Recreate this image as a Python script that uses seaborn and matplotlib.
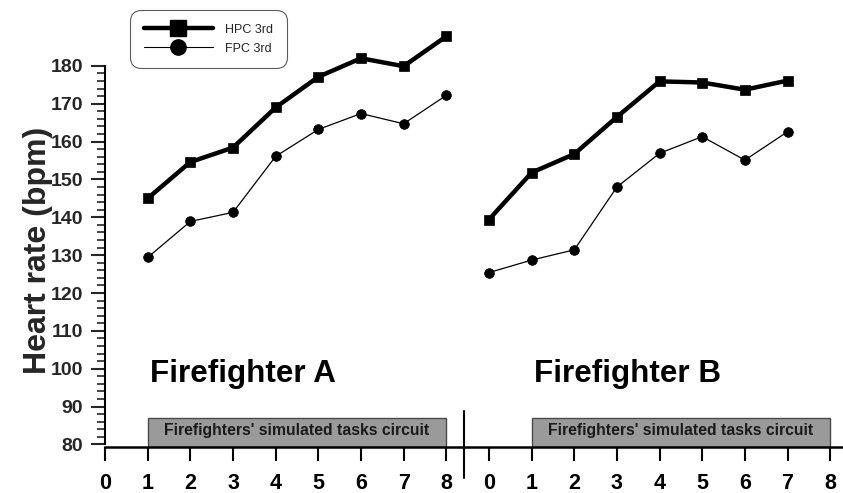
import numpy as np
import pandas as pd
import matplotlib
matplotlib.use("Agg")
import matplotlib.pyplot as plt
from matplotlib.lines import Line2D
from matplotlib.patches import Rectangle
from matplotlib.ticker import FixedLocator
import seaborn as sns

# Heart rate (bpm) at each step of the circuit
steps_a = [1, 2, 3, 4, 5, 6, 7, 8]
hpc_a = [145.0, 154.6, 158.4, 169.0, 177.1, 182.0, 179.9, 187.8]
fpc_a = [129.4, 138.9, 141.3, 156.1, 163.2, 167.4, 164.7, 172.2]

steps_b = [0, 1, 2, 3, 4, 5, 6, 7]
hpc_b = [139.4, 151.8, 156.7, 166.5, 175.9, 175.6, 173.7, 176.1]
fpc_b = [125.4, 128.7, 131.4, 148.0, 156.9, 161.3, 155.1, 162.6]

series_names = ["HPC 3rd", "FPC 3rd"]
panel_names = ["Firefighter A", "Firefighter B"]
tick_labels = [str(i) for i in range(9)]
circuit_label = "Firefighters' simulated tasks circuit"
circuit_span = (1, 8)      # circuit steps shaded in each panel
circuit_top = 87           # height of the circuit band (bpm)

# Panel B is placed to the right of panel A on a shared step axis
panel_offset = 9
y_low, y_high = 79.3, 192

rows = []
for name, steps, hpc, fpc, off in [
    (panel_names[0], steps_a, hpc_a, fpc_a, 0),
    (panel_names[1], steps_b, hpc_b, fpc_b, panel_offset),
]:
    for s, v in zip(steps, hpc):
        rows.append({"pos": s + off, "hr": v, "protocol": series_names[0], "ff": name})
    for s, v in zip(steps, fpc):
        rows.append({"pos": s + off, "hr": v, "protocol": series_names[1], "ff": name})
df = pd.DataFrame(rows)

sns.set_theme(style="ticks")
plt.rcParams["font.family"] = ["Liberation Sans", "DejaVu Sans"]

fig = plt.figure(figsize=(8.43, 4.93), dpi=100)
ax = fig.add_axes([0.1246, 0.0931, 0.8754, 0.8655])

sns.lineplot(
    data=df, x="pos", y="hr",
    hue="protocol", style="protocol", size="protocol",
    units="ff", estimator=None,
    palette={series_names[0]: "black", series_names[1]: "black"},
    markers={series_names[0]: "s", series_names[1]: "o"},
    dashes=False,
    sizes={series_names[0]: 3.2, series_names[1]: 0.9},
    markersize=7, markeredgecolor="black", markeredgewidth=0.5,
    legend=False, ax=ax, zorder=3,
)

ax.set_xlim(0, 17.3)
ax.set_ylim(y_low, y_high)

# Step ticks for both panels
xt = list(range(9)) + [i + panel_offset for i in range(9)]
ax.set_xticks(xt)
ax.set_xticklabels(tick_labels + tick_labels, fontsize=15.5, fontweight="bold")
ax.set_yticks(np.arange(80, 181, 10))
ax.set_yticklabels([str(v) for v in range(80, 181, 10)], fontsize=14, fontweight="bold")
ax.yaxis.set_minor_locator(FixedLocator(np.arange(80, 181, 2)))
ax.tick_params(axis="x", direction="out", length=10, width=1.5, pad=9, colors="black")
ax.tick_params(axis="y", which="major", direction="out", length=10, width=1.5, pad=6)
ax.tick_params(axis="y", which="minor", direction="out", length=6, width=1.2)

for side in ("top", "right"):
    ax.spines[side].set_visible(False)
ax.spines["left"].set_bounds(80, 180)
ax.spines["left"].set_linewidth(1.5)
ax.spines["bottom"].set_linewidth(1.8)
ax.spines["left"].set_color("black")
ax.spines["bottom"].set_color("black")

ax.set_xlabel("")
ax.set_ylabel("Heart rate (bpm)", fontsize=23, fontweight="bold")
ax.yaxis.set_label_coords(-0.071, 0.46)

# Circuit bands and panel titles
for off, title in zip([0, panel_offset], panel_names):
    x0, x1 = circuit_span[0] + off, circuit_span[1] + off
    ax.add_patch(Rectangle((x0, y_low), x1 - x0, circuit_top - y_low,
                           facecolor="#9a9a9a", edgecolor="#4a4a4a", lw=1.0, zorder=2))
    ax.text((x0 + x1) / 2, (80 + circuit_top) / 2 + 0.2, circuit_label,
            ha="center", va="center", fontsize=11.3, fontweight="bold", color="#1a1a1a", zorder=4)
    ax.text(circuit_span[0] + off + 0.05, 98.6, title, ha="left", va="center",
            fontsize=22.6, fontweight="bold", color="black")

# Divider between the two panels
ax.plot([8.42, 8.42], [-0.072, 0.085], color="black", lw=1.5,
        transform=ax.get_xaxis_transform(), clip_on=False)

handles = [
    Line2D([], [], color="black", lw=3.2, marker="s", markersize=11),
    Line2D([], [], color="black", lw=0.8, marker="o", markersize=11),
]
leg = fig.legend(handles, series_names, loc="upper left",
                 bbox_to_anchor=(130 / 843, 1 - 10 / 493), borderaxespad=0,
                 fontsize=9, handlelength=5.5, handletextpad=1.0,
                 labelspacing=0.55, borderpad=1.1, frameon=True, fancybox=True)
leg.get_frame().set_edgecolor("#333333")
leg.get_frame().set_linewidth(0.8)
leg.get_frame().set_boxstyle("round", pad=0.0, rounding_size=0.9)

fig.savefig("out.png", dpi=100)
